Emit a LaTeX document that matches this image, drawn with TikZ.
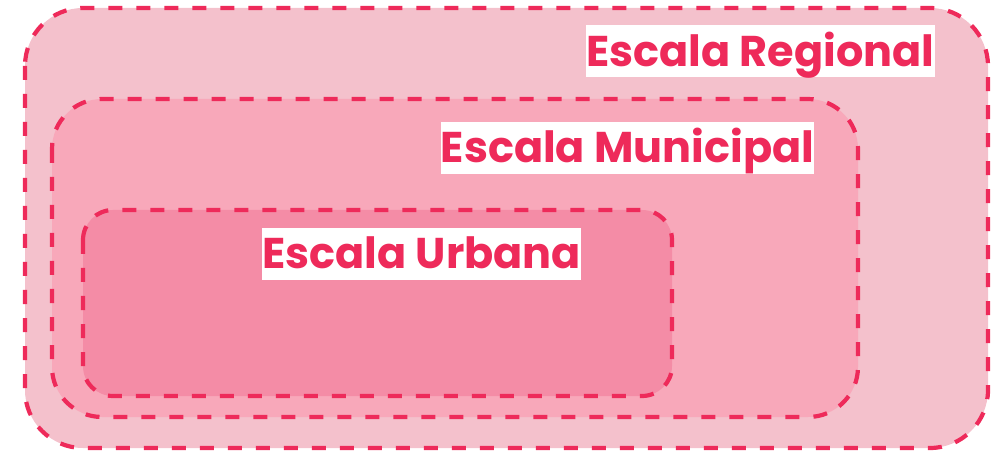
\documentclass[tikz,border=0pt]{standalone}
\usepackage{fontspec}
\setmainfont{Poppins}
\begin{document}
\begin{tikzpicture}[x=1pt,y=-1pt,
  zone/.style={draw=strokec, line width=4.2pt, dash pattern=on 14pt off 14pt},
  lbl/.style={fill=white, inner sep=0pt, text height=41pt, text depth=11pt,
    text=textc, font=\fontsize{43}{48}\selectfont\bfseries},
]
\definecolor{strokec}{RGB}{238,42,90}
\definecolor{textc}{RGB}{238,42,90}
\definecolor{outerc}{RGB}{244,193,204}
\definecolor{midc}{RGB}{248,168,186}
\definecolor{innerc}{RGB}{244,140,166}
\useasboundingbox (0,0) rectangle (1001,454);
\path[zone, fill=outerc, rounded corners=58pt] (25,8) rectangle (988,448);
\path[zone, fill=midc, rounded corners=50pt] (52,99) rectangle (858,417);
\path[zone, fill=innerc, rounded corners=30pt] (83,210) rectangle (672,396);
\node[lbl, minimum width=345pt] (reg) at (760.5,51.5) {Escala Regional};
\node[lbl, minimum width=370pt] (mun) at (627.5,148) {Escala Municipal};
\node[lbl, minimum width=317pt] (urb) at (421.7,254) {Escala Urbana};
\end{tikzpicture}
\end{document}
